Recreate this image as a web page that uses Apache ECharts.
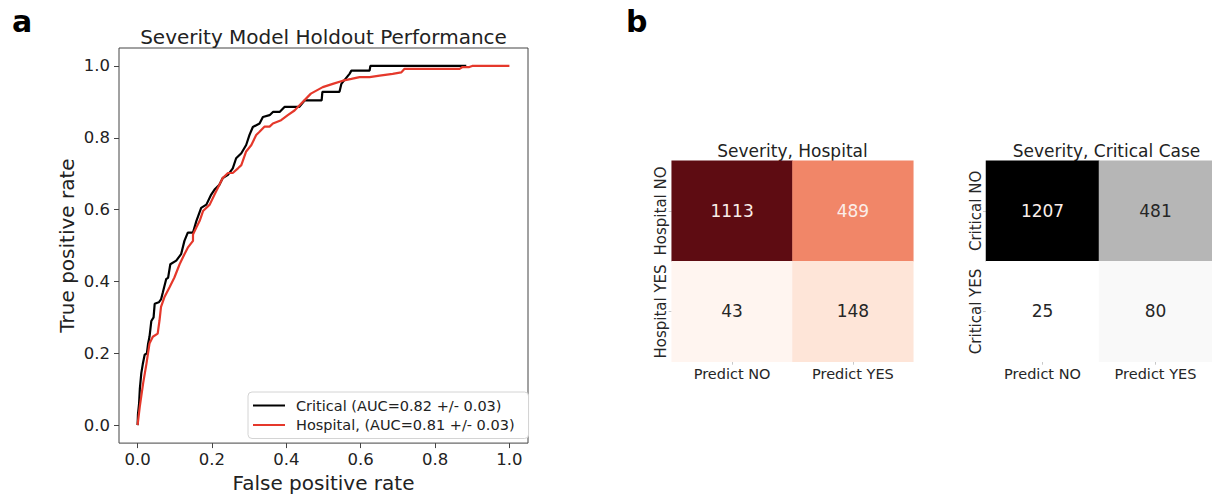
<!DOCTYPE html>
<html>
<head>
<meta charset="utf-8">
<script src="https://cdn.jsdelivr.net/npm/echarts@6/dist/echarts.min.js"></script>
<style>
  html, body { margin: 0; padding: 0; background: #fff; }
  #chart { width: 1212px; height: 498px; }
</style>
</head>
<body>
<div id="chart"></div>
<script>
// ---------- DATA ----------
const rocTicks = [0.0, 0.2, 0.4, 0.6, 0.8, 1.0];

const criticalName = 'Critical (AUC=0.82 +/- 0.03)';
const criticalFpr = [0, 0.001, 0.004, 0.006, 0.010, 0.014, 0.019, 0.025, 0.028, 0.032, 0.037, 0.043, 0.046, 0.057, 0.063, 0.068, 0.077, 0.082, 0.088, 0.104, 0.117, 0.126, 0.135, 0.149, 0.158, 0.171, 0.185, 0.198, 0.207, 0.220, 0.229, 0.243, 0.256, 0.265, 0.279, 0.292, 0.301, 0.310, 0.328, 0.337, 0.355, 0.364, 0.382, 0.395, 0.435, 0.449, 0.495, 0.497, 0.543, 0.548, 0.570, 0.575, 0.624, 0.626, 0.884];
const criticalTpr = [0, 0.030, 0.060, 0.100, 0.145, 0.170, 0.196, 0.200, 0.225, 0.246, 0.290, 0.300, 0.338, 0.342, 0.350, 0.370, 0.407, 0.410, 0.448, 0.458, 0.476, 0.513, 0.536, 0.536, 0.568, 0.605, 0.614, 0.642, 0.656, 0.669, 0.688, 0.697, 0.715, 0.743, 0.757, 0.780, 0.808, 0.830, 0.840, 0.858, 0.863, 0.872, 0.872, 0.886, 0.886, 0.904, 0.904, 0.928, 0.928, 0.950, 0.978, 0.987, 0.987, 1.000, 1.000];

const hospitalName = 'Hospital, (AUC=0.81 +/- 0.03)';
const hospitalFpr = [0, 0.006, 0.015, 0.024, 0.032, 0.041, 0.054, 0.059, 0.063, 0.072, 0.086, 0.099, 0.113, 0.126, 0.135, 0.149, 0.149, 0.158, 0.167, 0.176, 0.194, 0.207, 0.220, 0.229, 0.243, 0.256, 0.270, 0.279, 0.292, 0.306, 0.319, 0.328, 0.341, 0.355, 0.364, 0.386, 0.404, 0.422, 0.435, 0.466, 0.498, 0.525, 0.552, 0.575, 0.597, 0.624, 0.651, 0.686, 0.709, 0.718, 0.866, 0.874, 0.892, 0.900, 1.000];
const hospitalTpr = [0, 0.052, 0.117, 0.172, 0.227, 0.246, 0.255, 0.292, 0.329, 0.356, 0.384, 0.411, 0.448, 0.476, 0.494, 0.513, 0.531, 0.550, 0.569, 0.596, 0.614, 0.642, 0.669, 0.688, 0.702, 0.702, 0.715, 0.724, 0.762, 0.780, 0.808, 0.817, 0.831, 0.831, 0.840, 0.849, 0.863, 0.876, 0.890, 0.923, 0.941, 0.950, 0.959, 0.964, 0.969, 0.969, 0.973, 0.978, 0.982, 0.992, 0.992, 0.997, 0.997, 1.000, 1.000];

const predictCats = ['Predict NO', 'Predict YES'];
const hospitalRows = ['Hospital NO', 'Hospital YES'];
const hospitalMatrix = [[1113, 489], [43, 148]];
const criticalRows = ['Critical NO', 'Critical YES'];
const criticalMatrix = [[1207, 481], [25, 80]];

// ---------- STYLE ----------
const FONT = 'DejaVu Sans';
const redsStops = ['#fff5f0', '#fee0d2', '#fcbba1', '#f39274', '#ec6e51', '#e03e30', '#c11b20', '#960f16', '#5e0c12'];
const greysStops = ['#ffffff', '#f0f0f0', '#d9d9d9', '#b9b9b9', '#969696', '#737373', '#525252', '#252525', '#000000'];

function pairs(xs, ys) { return xs.map((x, i) => [x, ys[i]]); }
function flat(m) { return m.reduce((a, r) => a.concat(r), []); }
function cellData(matrix) {
  const vals = flat(matrix);
  const lo = Math.min(...vals), hi = Math.max(...vals);
  const out = [];
  matrix.forEach((row, r) => row.forEach((v, c) => {
    const t = (v - lo) / (hi - lo);
    out.push({ value: [c, r, v], label: { color: t > 0.4 ? '#fbeee9' : '#262626' } });
  }));
  return out;
}
const cellLabel = {
  show: true, fontFamily: FONT, fontSize: 17, color: '#262626',
  formatter: p => String(p.value[2])
};

const chart = echarts.init(document.getElementById('chart'), null, { renderer: 'svg' });

const heatGridTop = 160.7, heatGridH = 201;

function heatXAxis(gi) {
  return {
    gridIndex: gi, type: 'category', data: predictCats, position: 'bottom',
    axisLine: { show: false, onZero: false },
    axisTick: { show: true, length: 3, alignWithLabel: true, interval: 0, lineStyle: { color: '#c8c8c8' } },
    axisLabel: { fontFamily: FONT, fontSize: 14.5, color: '#262626', margin: 5, interval: 0 },
    splitLine: { show: false }
  };
}
function heatYAxis(gi, rows) {
  return {
    gridIndex: gi, type: 'category', data: rows, inverse: true,
    axisLine: { show: false, onZero: false },
    axisTick: { show: true, length: 3, alignWithLabel: true, interval: 0, lineStyle: { color: '#c8c8c8' } },
    axisLabel: { fontFamily: FONT, fontSize: 15, color: '#262626', rotate: 90, margin: 3, interval: 0 },
    splitLine: { show: false }
  };
}

const option = {
  animation: false,
  backgroundColor: '#ffffff',
  textStyle: { fontFamily: FONT },
  grid: [
    { left: 119, top: 48, width: 409, height: 400, show: true, borderColor: '#444', borderWidth: 1, backgroundColor: 'transparent' },
    { left: 671.7, top: heatGridTop, width: 241.6, height: heatGridH },
    { left: 986, top: heatGridTop, width: 241, height: heatGridH }
  ],
  xAxis: [
    {
      gridIndex: 0, type: 'value', min: -0.05, max: 1.05,
      name: 'False positive rate', nameLocation: 'middle', nameGap: 29,
      nameTextStyle: { fontFamily: FONT, fontSize: 20, color: '#222' },
      axisLine: { show: false, onZero: false },
      axisTick: { show: true, length: 5, customValues: rocTicks, lineStyle: { color: '#444' } },
      axisLabel: { customValues: rocTicks, fontFamily: FONT, fontSize: 16.5, color: '#222', margin: 8, formatter: v => v.toFixed(1) },
      splitLine: { show: false }
    },
    heatXAxis(1),
    heatXAxis(2)
  ],
  yAxis: [
    {
      gridIndex: 0, type: 'value', min: -0.05, max: 1.05,
      name: 'True positive rate', nameLocation: 'middle', nameGap: 42,
      nameTextStyle: { fontFamily: FONT, fontSize: 20, color: '#222' },
      axisLine: { show: false, onZero: false },
      axisTick: { show: true, length: 5, customValues: rocTicks, lineStyle: { color: '#444' } },
      axisLabel: { customValues: rocTicks, fontFamily: FONT, fontSize: 16.5, color: '#222', margin: 9, formatter: v => v.toFixed(1) },
      splitLine: { show: false }
    },
    heatYAxis(1, hospitalRows),
    heatYAxis(2, criticalRows)
  ],
  legend: {
    show: true, orient: 'vertical', left: 248, top: 392,
    data: [criticalName, hospitalName],
    itemWidth: 32, itemHeight: 14, itemGap: 4.5,
    padding: [6, 14, 6, 4],
    itemStyle: { opacity: 0, borderWidth: 0 },
    backgroundColor: '#ffffff', borderColor: '#d4d4d4', borderWidth: 1, borderRadius: 4,
    textStyle: { fontFamily: FONT, fontSize: 14.5, color: '#222', padding: [0, 0, 0, 6] }
  },
  visualMap: [
    { type: 'continuous', show: false, seriesIndex: 2, dimension: 2,
      min: Math.min(...flat(hospitalMatrix)), max: Math.max(...flat(hospitalMatrix)),
      inRange: { color: redsStops } },
    { type: 'continuous', show: false, seriesIndex: 3, dimension: 2,
      min: Math.min(...flat(criticalMatrix)), max: Math.max(...flat(criticalMatrix)),
      inRange: { color: greysStops } }
  ],
  graphic: [
    { type: 'text', left: 12, top: 6, style: { text: 'a', font: 'bold 30px "DejaVu Sans"', fill: '#000' } },
    { type: 'text', left: 626, top: 6, style: { text: 'b', font: 'bold 30px "DejaVu Sans"', fill: '#000' } },
    { type: 'text', x: 323.5, y: 37, style: { text: 'Severity Model Holdout Performance', font: '20px "DejaVu Sans"', fill: '#222', textAlign: 'center', textVerticalAlign: 'middle' } },
    { type: 'text', x: 792.5, y: 151, style: { text: 'Severity, Hospital', font: '17px "DejaVu Sans"', fill: '#222', textAlign: 'center', textVerticalAlign: 'middle' } },
    { type: 'text', x: 1106.5, y: 151, style: { text: 'Severity, Critical Case', font: '17px "DejaVu Sans"', fill: '#222', textAlign: 'center', textVerticalAlign: 'middle' } }
  ],
  series: [
    {
      name: criticalName, type: 'line', xAxisIndex: 0, yAxisIndex: 0,
      data: pairs(criticalFpr, criticalTpr), showSymbol: false, symbol: 'none',
      lineStyle: { color: '#000000', width: 2.2 }, itemStyle: { color: '#000000' }, z: 3
    },
    {
      name: hospitalName, type: 'line', xAxisIndex: 0, yAxisIndex: 0,
      data: pairs(hospitalFpr, hospitalTpr), showSymbol: false, symbol: 'none',
      lineStyle: { color: '#e5382b', width: 2.2 }, itemStyle: { color: '#e5382b' }, z: 4
    },
    {
      type: 'heatmap', xAxisIndex: 1, yAxisIndex: 1,
      data: cellData(hospitalMatrix), label: cellLabel,
      itemStyle: { borderWidth: 0 }, emphasis: { disabled: true }
    },
    {
      type: 'heatmap', xAxisIndex: 2, yAxisIndex: 2,
      data: cellData(criticalMatrix), label: cellLabel,
      itemStyle: { borderWidth: 0 }, emphasis: { disabled: true }
    }
  ]
};
chart.setOption(option);
</script>
</body>
</html>
